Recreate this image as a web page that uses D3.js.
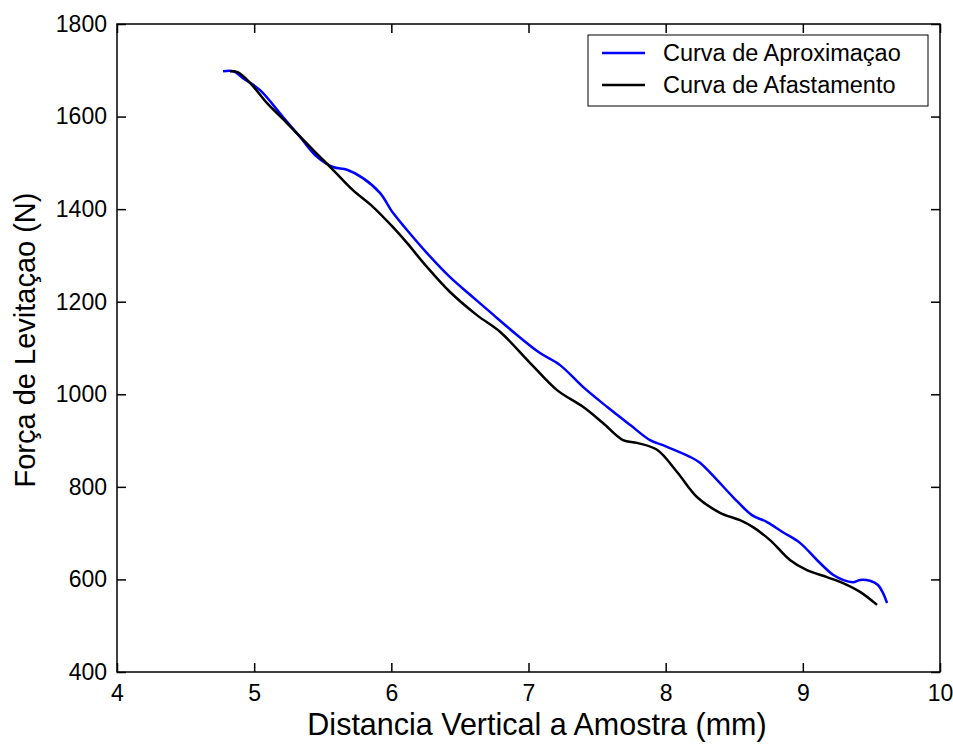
<!DOCTYPE html>
<html>
<head>
<meta charset="utf-8">
<script src="https://cdn.jsdelivr.net/npm/d3@7"></script>
<style>
  html, body { margin: 0; padding: 0; background: #fff; }
  svg text { font-family: "Liberation Sans", Arial, sans-serif; fill: #000; }
</style>
</head>
<body>
<svg id="chart" width="953" height="744"></svg>
<script>
// ---- Data ----
const xTicks = [4, 5, 6, 7, 8, 9, 10];
const yTicks = [400, 600, 800, 1000, 1200, 1400, 1600, 1800];
const seriesNames = ["Curva de Aproximaçao", "Curva de Afastamento"];
const seriesColors = ["#0000ff", "#000000"];

const aproxX = [4.773, 4.85, 4.919, 5.043, 5.21, 5.334, 5.458, 5.575, 5.677, 5.793, 5.917, 6.012, 6.114, 6.26, 6.428, 6.574, 6.719, 6.916, 7.084, 7.23, 7.397, 7.572, 7.74, 7.886, 7.98, 8.177, 8.25, 8.374, 8.491, 8.629, 8.739, 8.855, 8.979, 9.103, 9.22, 9.293, 9.366, 9.417, 9.49, 9.548, 9.584, 9.614];
const aproxY = [1698, 1698, 1683, 1657, 1599, 1556, 1513, 1491, 1485, 1467, 1435, 1392, 1355, 1305, 1253, 1215, 1178, 1128, 1089, 1063, 1016, 973, 934, 901, 890, 865, 852, 815, 778, 739, 724, 702, 679, 642, 610, 599, 594, 599, 597, 588, 571, 549];

const afastX = [4.824, 4.88, 4.97, 5.094, 5.239, 5.429, 5.575, 5.72, 5.866, 6.012, 6.114, 6.26, 6.428, 6.624, 6.792, 7.011, 7.208, 7.397, 7.543, 7.689, 7.791, 7.937, 8.083, 8.228, 8.396, 8.542, 8.637, 8.761, 8.906, 9.03, 9.176, 9.293, 9.417, 9.541];
const afastY = [1698, 1696, 1673, 1629, 1586, 1528, 1485, 1441, 1405, 1361, 1327, 1275, 1221, 1171, 1135, 1068, 1009, 973, 938, 901, 895, 880, 832, 778, 744, 728, 713, 685, 642, 620, 605, 592, 573, 545];

// ---- Layout ----
const svg = d3.select("#chart");
const mLeft = 117, mRight = 940, mTop = 24, mBottom = 672;
const x = d3.scaleLinear().domain([4, 10]).range([mLeft, mRight]);
const y = d3.scaleLinear().domain([400, 1800]).range([mBottom, mTop]);
const tickLen = 9;

// series
const line = d3.line().x(d => x(d[0])).y(d => y(d[1])).curve(d3.curveCatmullRom.alpha(0.5));
const series = [
  d3.zip(aproxX, aproxY),
  d3.zip(afastX, afastY)
];
series.forEach((s, i) => {
  svg.append("path").datum(s)
    .attr("d", line)
    .attr("fill", "none")
    .attr("stroke", seriesColors[i])
    .attr("stroke-width", 2.5)
    .attr("stroke-linejoin", "round");
});

// frame
svg.append("rect")
  .attr("x", mLeft).attr("y", mTop)
  .attr("width", mRight - mLeft).attr("height", mBottom - mTop)
  .attr("fill", "none").attr("stroke", "#000").attr("stroke-width", 1.5);

// axes (ticks inward)
const xAxis = d3.axisBottom(x).tickValues(xTicks).tickSize(-tickLen).tickPadding(13).tickFormat(d3.format("d"));
const yAxis = d3.axisLeft(y).tickValues(yTicks).tickSize(-tickLen).tickPadding(10).tickFormat(d3.format("d"));
const xTop = d3.axisTop(x).tickValues(xTicks).tickSize(-tickLen).tickFormat("");
const yRight = d3.axisRight(y).tickValues(yTicks).tickSize(-tickLen).tickFormat("");

function style(g) {
  g.select(".domain").remove();
  g.selectAll(".tick line").attr("stroke", "#000").attr("stroke-width", 1.5);
  g.selectAll("text").attr("font-size", 23).attr("font-family", "Liberation Sans, Arial, sans-serif").attr("fill", "#000");
}
svg.append("g").attr("transform", `translate(0,${mBottom})`).call(xAxis).call(style);
svg.append("g").attr("transform", `translate(${mLeft},0)`).call(yAxis).call(style);
svg.append("g").attr("transform", `translate(0,${mTop})`).call(xTop).call(style);
svg.append("g").attr("transform", `translate(${mRight},0)`).call(yRight).call(style);

// axis titles
svg.append("text")
  .attr("x", 537).attr("y", 735)
  .attr("text-anchor", "middle")
  .attr("font-size", 30.5)
  .text("Distancia Vertical a Amostra (mm)");
svg.append("text")
  .attr("transform", "translate(35,340) rotate(-90)")
  .attr("text-anchor", "middle")
  .attr("font-size", 29)
  .text("Força de Levitaçao (N)");

// legend
const lg = svg.append("g");
lg.append("rect")
  .attr("x", 588).attr("y", 35).attr("width", 340).attr("height", 71)
  .attr("fill", "#fff").attr("stroke", "#000").attr("stroke-width", 1);
seriesNames.forEach((name, i) => {
  const ly = 53 + i * 32;
  lg.append("line")
    .attr("x1", 602).attr("x2", 645).attr("y1", ly).attr("y2", ly)
    .attr("stroke", seriesColors[i]).attr("stroke-width", 2.5);
  lg.append("text")
    .attr("x", 663).attr("y", ly + 8)
    .attr("font-size", 23.5)
    .text(name);
});
</script>
</body>
</html>
